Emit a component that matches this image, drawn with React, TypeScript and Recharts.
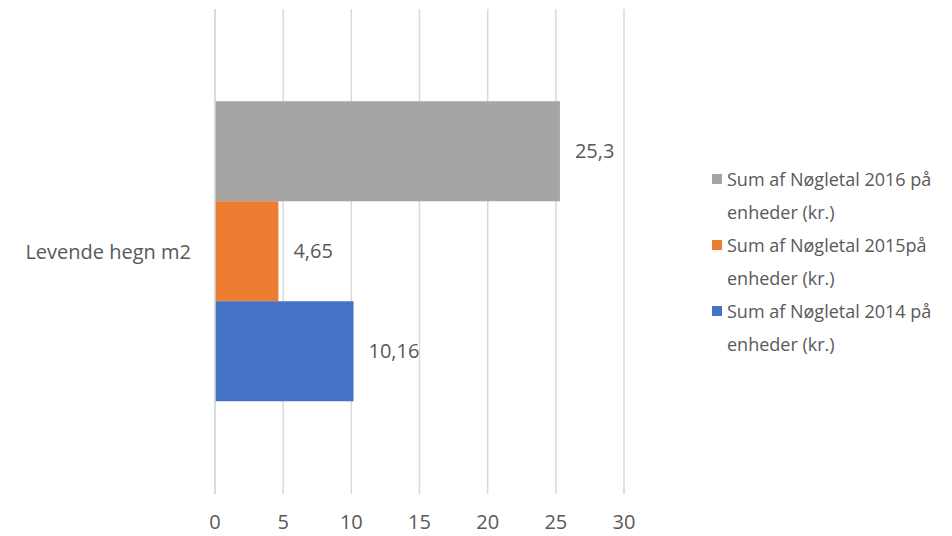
import React from "react";
import { BarChart, Bar, XAxis, YAxis, CartesianGrid, LabelList } from "recharts";

const categories = ["Levende hegn m2"];
const values2016 = [25.3];
const values2015 = [4.65];
const values2014 = [10.16];
const xTicks = [0, 5, 10, 15, 20, 25, 30];

const seriesNames = [
  "Sum af Nøgletal 2016 på enheder (kr.)",
  "Sum af Nøgletal 2015på enheder (kr.)",
  "Sum af Nøgletal 2014 på enheder (kr.)",
];
const seriesKeys = ["y2016", "y2015", "y2014"];
const seriesColors = ["#A5A5A5", "#ED7D31", "#4472C4"];

const data = categories.map((name, i) => ({
  name,
  y2016: values2016[i],
  y2015: values2015[i],
  y2014: values2014[i],
}));

const FONT = "'Open Sans', sans-serif";
const TEXT = "#595959";

const fmt = (v: any) => String(v).replace(".", ",");

// legend drawn beside the chart, two lines per entry like the original
function LegendBox() {
  return (
    <div
      style={{
        position: "absolute",
        left: 712,
        top: 163,
        fontFamily: FONT,
        fontSize: 18,
        color: TEXT,
        lineHeight: "33px",
      }}
    >
      {seriesNames.map((n, i) => {
        const cut = n.indexOf(" enheder");
        return (
          <div key={n} style={{ display: "flex", alignItems: "flex-start" }}>
            <div style={{ width: 10, height: 10, background: seriesColors[i], marginTop: 11, marginRight: 5, flex: "none" }} />
            <div style={{ whiteSpace: "nowrap" }}>
              <div>{n.slice(0, cut)}</div>
              <div>{n.slice(cut + 1)}</div>
            </div>
          </div>
        );
      })}
    </div>
  );
}

export default function App() {
  return (
    <div style={{ position: "absolute", left: 0, top: 0, width: 952, height: 536, background: "#fff" }}>
      <BarChart
        width={952}
        height={536}
        data={data}
        layout="vertical"
        margin={{ top: 9, right: 328, bottom: 0, left: 0 }}
        barCategoryGap="19%"
        barGap={0}
      >
        <CartesianGrid horizontal={false} stroke="#D9D9D9" strokeWidth={1.5} />
        <XAxis
          type="number"
          domain={[0, 30]}
          ticks={xTicks}
          axisLine={false}
          tickLine={false}
          height={42}
          tickMargin={15}
          tick={{ fill: TEXT, fontSize: 20, fontFamily: FONT }}
        />
        <YAxis
          type="category"
          dataKey="name"
          width={215}
          axisLine={{ stroke: "#D9D9D9", strokeWidth: 1.5 }}
          tickLine={false}
          tickSize={0}
          tickMargin={24}
          tick={{ fill: TEXT, fontSize: 20, fontFamily: FONT }}
        />
        {seriesKeys.map((k, i) => (
          <Bar key={k} dataKey={k} name={seriesNames[i]} fill={seriesColors[i]} isAnimationActive={false}>
            <LabelList
              dataKey={k}
              position="right"
              offset={15}
              formatter={fmt}
              style={{ fill: TEXT, fontSize: 20, fontFamily: FONT }}
            />
          </Bar>
        ))}
      </BarChart>
      <LegendBox />
    </div>
  );
}
